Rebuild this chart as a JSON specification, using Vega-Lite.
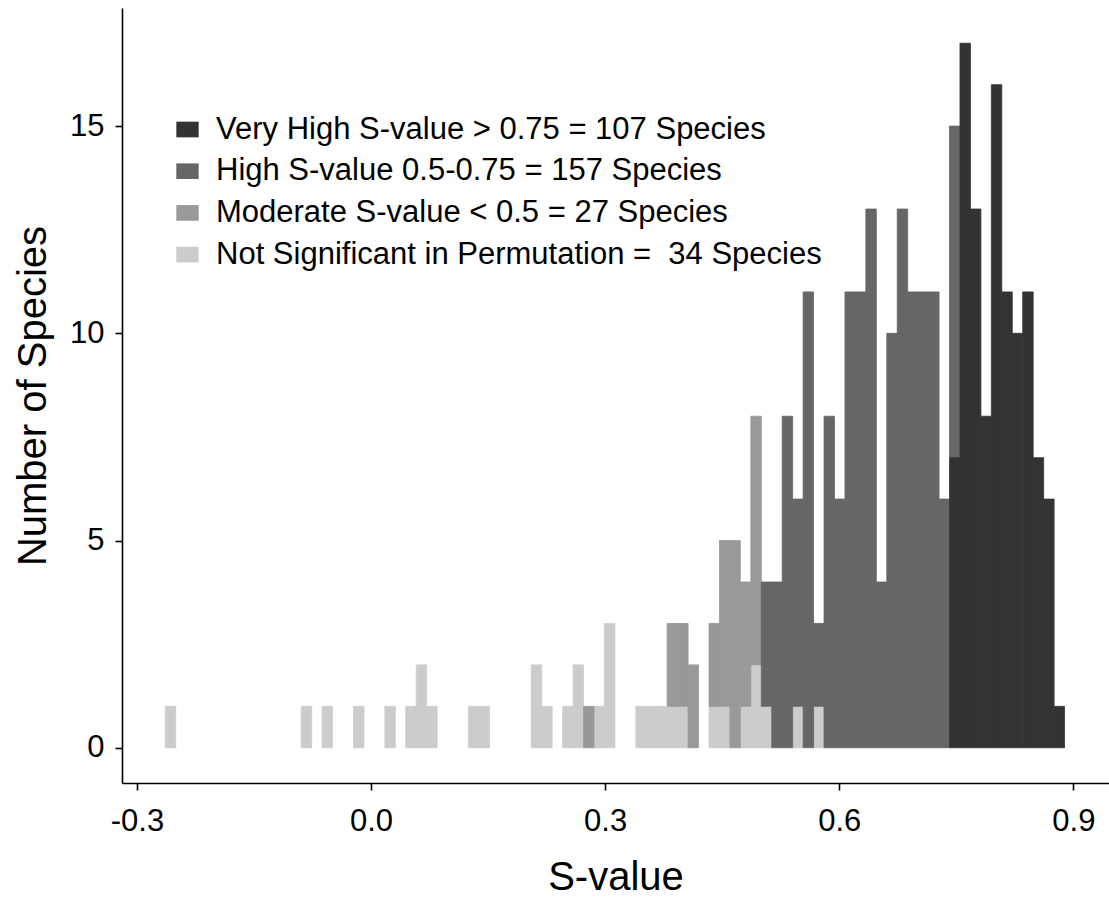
{
  "$schema": "https://vega.github.io/schema/vega-lite/v6.json",
  "autosize": {"type": "none"},
  "padding": {"left": 122, "top": 8, "right": 0, "bottom": 114},
  "width": 987,
  "height": 775,
  "background": "white",
  "config": {
    "view": {"stroke": null},
    "font": "Liberation Sans",
    "axis": {"grid": false, "domainColor": "black", "domainWidth": 1.6, "tickColor": "black", "tickWidth": 1.6, "tickSize": 7, "labelColor": "black", "titleColor": "black", "labelFont": "Liberation Sans", "titleFont": "Liberation Sans", "titleFontWeight": "normal"}
  },
  "data": {"values": [
    {"g": "Not Significant in Permutation = \u00a034 Species", "s": -0.2643, "e": -0.2509, "n": 1},
    {"g": "Not Significant in Permutation = \u00a034 Species", "s": -0.0901, "e": -0.0767, "n": 1},
    {"g": "Not Significant in Permutation = \u00a034 Species", "s": -0.0633, "e": -0.0499, "n": 1},
    {"g": "Not Significant in Permutation = \u00a034 Species", "s": -0.0231, "e": -0.0097, "n": 1},
    {"g": "Not Significant in Permutation = \u00a034 Species", "s": 0.0171, "e": 0.0305, "n": 1},
    {"g": "Not Significant in Permutation = \u00a034 Species", "s": 0.0439, "e": 0.0573, "n": 1},
    {"g": "Not Significant in Permutation = \u00a034 Species", "s": 0.0573, "e": 0.0707, "n": 2},
    {"g": "Not Significant in Permutation = \u00a034 Species", "s": 0.0707, "e": 0.0841, "n": 1},
    {"g": "Not Significant in Permutation = \u00a034 Species", "s": 0.1243, "e": 0.1377, "n": 1},
    {"g": "Not Significant in Permutation = \u00a034 Species", "s": 0.1377, "e": 0.1511, "n": 1},
    {"g": "Not Significant in Permutation = \u00a034 Species", "s": 0.2047, "e": 0.2181, "n": 2},
    {"g": "Not Significant in Permutation = \u00a034 Species", "s": 0.2181, "e": 0.2315, "n": 1},
    {"g": "Not Significant in Permutation = \u00a034 Species", "s": 0.2449, "e": 0.2583, "n": 1},
    {"g": "Not Significant in Permutation = \u00a034 Species", "s": 0.2583, "e": 0.2717, "n": 2},
    {"g": "Not Significant in Permutation = \u00a034 Species", "s": 0.2851, "e": 0.2985, "n": 1},
    {"g": "Not Significant in Permutation = \u00a034 Species", "s": 0.2985, "e": 0.3119, "n": 3},
    {"g": "Not Significant in Permutation = \u00a034 Species", "s": 0.3387, "e": 0.3521, "n": 1},
    {"g": "Not Significant in Permutation = \u00a034 Species", "s": 0.3521, "e": 0.3655, "n": 1},
    {"g": "Not Significant in Permutation = \u00a034 Species", "s": 0.3655, "e": 0.3789, "n": 1},
    {"g": "Not Significant in Permutation = \u00a034 Species", "s": 0.3789, "e": 0.3923, "n": 1},
    {"g": "Not Significant in Permutation = \u00a034 Species", "s": 0.3923, "e": 0.4057, "n": 1},
    {"g": "Not Significant in Permutation = \u00a034 Species", "s": 0.4325, "e": 0.4459, "n": 1},
    {"g": "Not Significant in Permutation = \u00a034 Species", "s": 0.4459, "e": 0.4593, "n": 1},
    {"g": "Not Significant in Permutation = \u00a034 Species", "s": 0.4727, "e": 0.4861, "n": 1},
    {"g": "Not Significant in Permutation = \u00a034 Species", "s": 0.4861, "e": 0.4995, "n": 2},
    {"g": "Not Significant in Permutation = \u00a034 Species", "s": 0.4995, "e": 0.5129, "n": 1},
    {"g": "Not Significant in Permutation = \u00a034 Species", "s": 0.5397, "e": 0.5531, "n": 1},
    {"g": "Not Significant in Permutation = \u00a034 Species", "s": 0.5665, "e": 0.5799, "n": 1},
    {"g": "Moderate S-value < 0.5 = 27 Species", "s": 0.2717, "e": 0.2851, "n": 1},
    {"g": "Moderate S-value < 0.5 = 27 Species", "s": 0.3789, "e": 0.3923, "n": 2},
    {"g": "Moderate S-value < 0.5 = 27 Species", "s": 0.3923, "e": 0.4057, "n": 2},
    {"g": "Moderate S-value < 0.5 = 27 Species", "s": 0.4057, "e": 0.4191, "n": 2},
    {"g": "Moderate S-value < 0.5 = 27 Species", "s": 0.4325, "e": 0.4459, "n": 2},
    {"g": "Moderate S-value < 0.5 = 27 Species", "s": 0.4459, "e": 0.4593, "n": 4},
    {"g": "Moderate S-value < 0.5 = 27 Species", "s": 0.4593, "e": 0.4727, "n": 5},
    {"g": "Moderate S-value < 0.5 = 27 Species", "s": 0.4727, "e": 0.4861, "n": 3},
    {"g": "Moderate S-value < 0.5 = 27 Species", "s": 0.4861, "e": 0.4995, "n": 6},
    {"g": "High S-value 0.5-0.75 = 157 Species", "s": 0.4995, "e": 0.5129, "n": 3},
    {"g": "High S-value 0.5-0.75 = 157 Species", "s": 0.5129, "e": 0.5263, "n": 4},
    {"g": "High S-value 0.5-0.75 = 157 Species", "s": 0.5263, "e": 0.5397, "n": 8},
    {"g": "High S-value 0.5-0.75 = 157 Species", "s": 0.5397, "e": 0.5531, "n": 5},
    {"g": "High S-value 0.5-0.75 = 157 Species", "s": 0.5531, "e": 0.5665, "n": 11},
    {"g": "High S-value 0.5-0.75 = 157 Species", "s": 0.5665, "e": 0.5799, "n": 2},
    {"g": "High S-value 0.5-0.75 = 157 Species", "s": 0.5799, "e": 0.5933, "n": 8},
    {"g": "High S-value 0.5-0.75 = 157 Species", "s": 0.5933, "e": 0.6067, "n": 6},
    {"g": "High S-value 0.5-0.75 = 157 Species", "s": 0.6067, "e": 0.6201, "n": 11},
    {"g": "High S-value 0.5-0.75 = 157 Species", "s": 0.6201, "e": 0.6335, "n": 11},
    {"g": "High S-value 0.5-0.75 = 157 Species", "s": 0.6335, "e": 0.6469, "n": 13},
    {"g": "High S-value 0.5-0.75 = 157 Species", "s": 0.6469, "e": 0.6603, "n": 4},
    {"g": "High S-value 0.5-0.75 = 157 Species", "s": 0.6603, "e": 0.6737, "n": 10},
    {"g": "High S-value 0.5-0.75 = 157 Species", "s": 0.6737, "e": 0.6871, "n": 13},
    {"g": "High S-value 0.5-0.75 = 157 Species", "s": 0.6871, "e": 0.7005, "n": 11},
    {"g": "High S-value 0.5-0.75 = 157 Species", "s": 0.7005, "e": 0.7139, "n": 11},
    {"g": "High S-value 0.5-0.75 = 157 Species", "s": 0.7139, "e": 0.7273, "n": 11},
    {"g": "High S-value 0.5-0.75 = 157 Species", "s": 0.7273, "e": 0.7407, "n": 6},
    {"g": "High S-value 0.5-0.75 = 157 Species", "s": 0.7407, "e": 0.7541, "n": 8},
    {"g": "Very High S-value > 0.75 = 107 Species", "s": 0.7407, "e": 0.7541, "n": 7},
    {"g": "Very High S-value > 0.75 = 107 Species", "s": 0.7541, "e": 0.7675, "n": 17},
    {"g": "Very High S-value > 0.75 = 107 Species", "s": 0.7675, "e": 0.7809, "n": 13},
    {"g": "Very High S-value > 0.75 = 107 Species", "s": 0.7809, "e": 0.7943, "n": 8},
    {"g": "Very High S-value > 0.75 = 107 Species", "s": 0.7943, "e": 0.8077, "n": 16},
    {"g": "Very High S-value > 0.75 = 107 Species", "s": 0.8077, "e": 0.8211, "n": 11},
    {"g": "Very High S-value > 0.75 = 107 Species", "s": 0.8211, "e": 0.8345, "n": 10},
    {"g": "Very High S-value > 0.75 = 107 Species", "s": 0.8345, "e": 0.8479, "n": 11},
    {"g": "Very High S-value > 0.75 = 107 Species", "s": 0.8479, "e": 0.8613, "n": 7},
    {"g": "Very High S-value > 0.75 = 107 Species", "s": 0.8613, "e": 0.8747, "n": 6},
    {"g": "Very High S-value > 0.75 = 107 Species", "s": 0.8747, "e": 0.8881, "n": 1}
  ]},
  "mark": {"type": "bar", "strokeWidth": 0.8, "binSpacing": 0},
  "encoding": {
    "x": {"field": "s", "type": "quantitative", "bin": "binned",
      "scale": {"domain": [-0.3191, 0.9457], "nice": false, "zero": false},
      "axis": {"values": [-0.3, 0, 0.3, 0.6, 0.9], "format": ".1f", "labelExpr": "replace(datum.label, '\u2212', '-')", "title": "S-value", "labelFontSize": 31, "titleFontSize": 40, "labelPadding": 16, "titlePadding": 21, "labelFlush": false}},
    "x2": {"field": "e"},
    "y": {"field": "n", "type": "quantitative", "stack": "zero",
      "scale": {"domain": [-0.85, 17.85], "nice": false, "zero": false},
      "axis": {"values": [0, 5, 10, 15], "title": "Number of Species", "labelFontSize": 31, "titleFontSize": 40, "labelPadding": 11, "titlePadding": 16}},
    "color": {"field": "g", "type": "nominal",
      "scale": {"domain": ["Very High S-value > 0.75 = 107 Species", "High S-value 0.5-0.75 = 157 Species", "Moderate S-value < 0.5 = 27 Species", "Not Significant in Permutation = \u00a034 Species"], "range": ["#333333", "#666666", "#999999", "#cccccc"]},
      "legend": {"title": null, "orient": "none", "legendX": 50, "legendY": 106, "labelFontSize": 31, "labelColor": "black", "labelFont": "Liberation Sans", "symbolType": "M-1,-0.7H1V0.7H-1Z", "symbolSize": 500, "symbolStrokeWidth": 0, "symbolOpacity": 1, "rowPadding": 9.7, "labelOffset": 13, "labelLimit": 0}},
    "stroke": {"field": "g", "type": "nominal",
      "scale": {"domain": ["Very High S-value > 0.75 = 107 Species", "High S-value 0.5-0.75 = 157 Species", "Moderate S-value < 0.5 = 27 Species", "Not Significant in Permutation = \u00a034 Species"], "range": ["#333333", "#666666", "#999999", "#cccccc"]},
      "legend": null},
    "order": {"field": "g", "sort": "descending"}
  }
}
